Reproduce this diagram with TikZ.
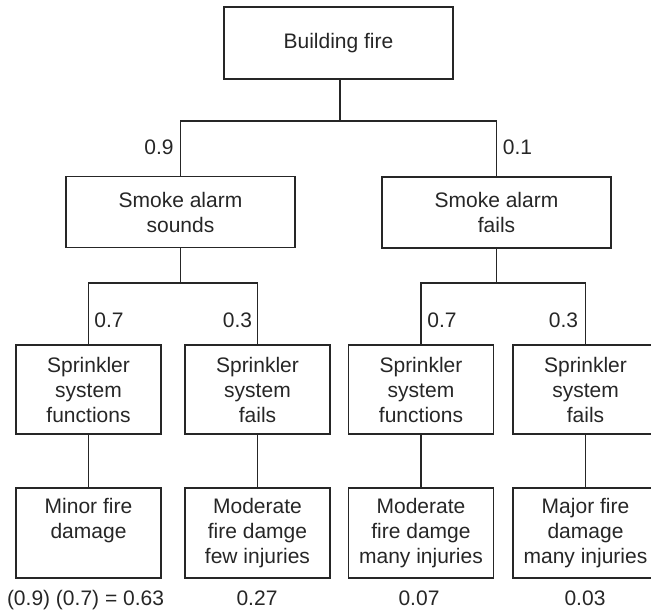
\documentclass[tikz,border=0pt]{standalone}
\usepackage{fontspec}
\setmainfont{Liberation Sans}
\definecolor{ink}{HTML}{262626}
\newcommand{\toptext}[1]{\parbox[c][74pt][t]{140pt}{\centering\strut #1}}
\tikzset{
  txt/.style={font=\fontsize{21}{25}\selectfont, text=ink},
  box/.style={txt, draw=ink, line width=1.2pt, inner sep=0pt, align=center,
              minimum width=#1},
  box/.default=145pt,
  wide/.style={box=229pt, minimum height=71pt},
  mid/.style={box, minimum height=89pt},
  leaf/.style={box, minimum height=90pt},
  prob/.style={txt, anchor=base, inner sep=0pt},
  link/.style={draw=ink, line width=1.2pt}
}
\begin{document}
\begin{tikzpicture}[x=1pt, y=-1pt]
\useasboundingbox (0,0) rectangle (651,611);
\clip (0,0) rectangle (651,611);

% event boxes
\node[wide, minimum height=72pt] (fire) at (338.5,43) {Building fire};
\node[wide] (sounds) at (180.5,212) {Smoke alarm\\sounds};
\node[wide] (fails)  at (496.5,212.5) {Smoke alarm\\fails};

\node[mid] (sf1) at (88.5,389.5)  {Sprinkler\\system\\functions};
\node[mid] (sx1) at (257.5,389.5) {Sprinkler\\system\\fails};
\node[mid] (sf2) at (421,389.5)   {Sprinkler\\system\\functions};
\node[mid] (sx2) at (585.5,389.5) {Sprinkler\\system\\fails};

\node[leaf] (o1) at (88.5,533)  {\toptext{Minor fire\\damage}};
\node[leaf] (o2) at (257.5,533) {\toptext{Moderate\\fire damge\\few injuries}};
\node[leaf] (o3) at (421,533)   {\toptext{Moderate\\fire damge\\many injuries}};
\node[leaf] (o4) at (585.5,533) {\toptext{Major fire\\damage\\many injuries}};

% branch junctions
\coordinate (j0) at ([xshift=1.5pt]fire.south |- 0,121);
\coordinate (j1) at (sounds.south |- 0,283);
\coordinate (j2) at (fails.south |- 0,283);

% connectors
\draw[link] ([xshift=1.5pt]fire.south) -- (j0);
\draw[link] (sounds.north) |- (j0) -| (fails.north);
\draw[link] (sounds.south) -- (j1);
\draw[link] (sf1.north) |- (j1) -| (sx1.north);
\draw[link] (fails.south) -- (j2);
\draw[link] (sf2.north) |- (j2) -| (sx2.north);
\draw[link] (sf1.south) -- (o1.north);
\draw[link] (sx1.south) -- (o2.north);
\draw[link] (sf2.south) -- (o3.north);
\draw[link] (sx2.south) -- (o4.north);

% branch probabilities
\node[prob] (p09) at (159,154)   {0.9};
\node[prob] (p01) at (517.5,154) {0.1};
\node[prob] (p07a) at (109,327)  {0.7};
\node[prob] (p03a) at (237.5,327) {0.3};
\node[prob] (p07b) at (442,327)  {0.7};
\node[prob] (p03b) at (563.5,327) {0.3};

% outcome probabilities
\node[prob] (r1) at (85.5,605) {(0.9) (0.7) = 0.63};
\node[prob] (r2) at (257,605)  {0.27};
\node[prob] (r3) at (419,605)  {0.07};
\node[prob] (r4) at (585,605)  {0.03};
\end{tikzpicture}
\end{document}
